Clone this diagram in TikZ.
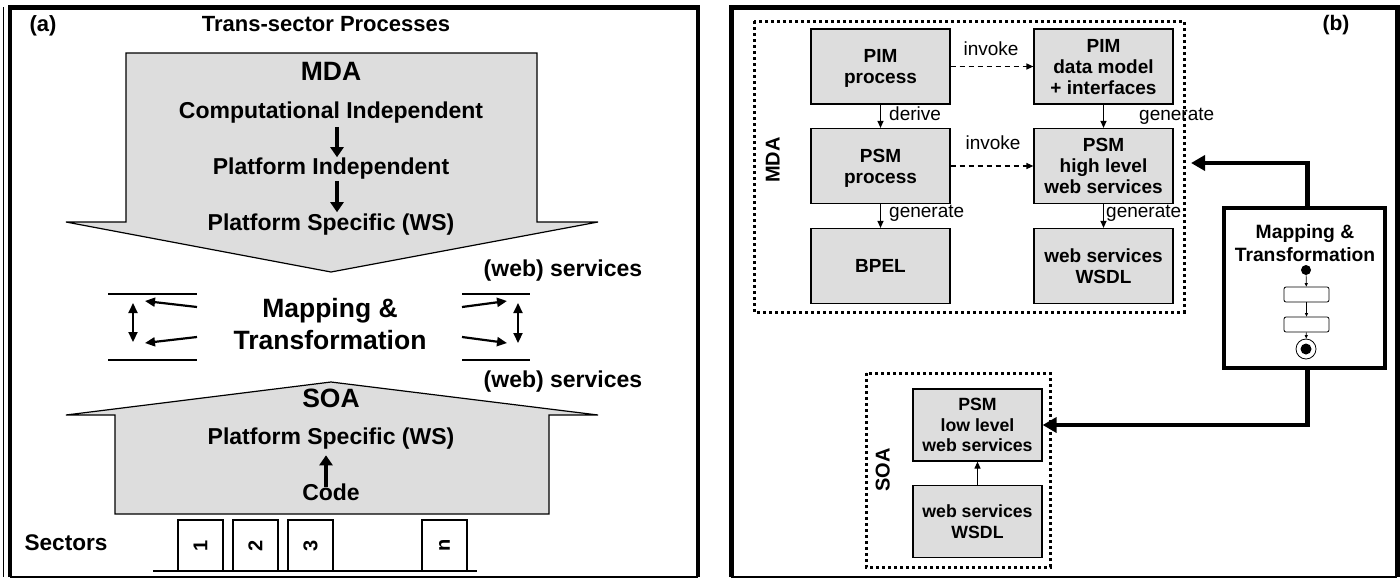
\documentclass[tikz,border=0pt]{standalone}
\usepackage{fontspec}
\usepackage{graphicx}
\setmainfont{Liberation Sans}
\usetikzlibrary{arrows.meta}
\definecolor{boxgray}{RGB}{221,221,221}
\tikzset{
  tx/.style={inner sep=0pt, text height=0.72em, text depth=0pt},
  bigtxt/.style={tx, font=\fontsize{26.5}{32}\selectfont\bfseries},
  medtxt/.style={tx, font=\fontsize{23}{26}\selectfont\bfseries},
  twoline/.style={inner sep=0pt, align=center, font=\fontsize{26.5}{32}\selectfont\bfseries},
  lbl/.style={tx, font=\fontsize{19}{21}\selectfont},
  boldlbl/.style={tx, font=\fontsize{20}{22}\selectfont\bfseries},
  gbox/.style={draw, fill=boxgray, line width=1.2pt, minimum width=139pt, minimum height=75pt,
    inner sep=0pt, align=center, text depth=0pt, font=\fontsize{19}{21}\selectfont\bfseries},
  sbox/.style={draw, fill=boxgray, line width=1.2pt, minimum width=129pt, minimum height=72pt,
    inner sep=0pt, align=center, text depth=0pt, font=\fontsize{17.7}{20.5}\selectfont\bfseries},
  secbox/.style={draw, line width=1.3pt, minimum width=45pt, minimum height=51pt, inner sep=0pt,
    font=\fontsize{20}{22}\selectfont\bfseries},
  dotframe/.style={line width=3pt, dash pattern=on 3pt off 3pt},
  fatarrow/.style={line width=4pt, -{Triangle[length=10pt,width=13pt]}},
  maparrow/.style={line width=2.2pt, -{Triangle[length=10pt,width=9pt]}},
  dblarrow/.style={line width=2.2pt, {Triangle[length=10pt,width=9pt]}-{Triangle[length=10pt,width=9pt]}},
  thinarrow/.style={line width=1.2pt, -{Triangle[length=7pt,width=6pt]}},
  dasharrow/.style={line width=1.2pt, dash pattern=on 5pt off 4pt, -{Triangle[length=7pt,width=6pt]}},
  heavyarrow/.style={line width=4.5pt, -{Triangle[length=14pt,width=15pt]}},
  tinyarrow/.style={line width=0.7pt, -{Triangle[length=3.5pt,width=3pt]}},
  shape line/.style={draw=black, line width=1.2pt, fill=boxgray}
}
\begin{document}
\begin{tikzpicture}[x=1pt,y=-1pt]
\useasboundingbox (0,0) rectangle (1400,579);
\fill[white] (0,0) rectangle (1400,579);

% ---------------- frames
\draw[line width=1pt] (3,7) -- (3,577);
\draw[line width=4.5pt, line join=miter] (10,577) -- (10,7.5) -- (698,7.5) -- (698,577);
\draw[line width=1.2pt] (10,577) -- (698,577);
\draw[line width=5pt, line join=miter] (731,577) -- (731,7.5) -- (1397,7.5) -- (1397,577);
\draw[line width=1.2pt] (731,577) -- (1397,577);

% ---------------- panel (a)
\node[tx, font=\fontsize{22}{24}\selectfont\bfseries] (la) at (43,28) {(a)};
\node[tx, font=\fontsize{22}{24}\selectfont\bfseries] (title) at (326,28) {Trans-sector Processes};

\path[shape line] (126,53) -- (537,53) -- (537,222) -- (598,222) -- (331,272) -- (66,222) -- (126,222) -- cycle;
\node[bigtxt] (mda) at (331,77) {MDA};
\node[medtxt] (cim) at (331,115) {Computational Independent};
\node[medtxt] (pim) at (331,171) {Platform Independent};
\node[medtxt] (psm) at (331,227) {Platform Specific (WS)};
\draw[fatarrow, shorten <=8pt, shorten >=10pt] ([xshift=6pt]cim.south) -- ([xshift=6pt]pim.north);
\draw[fatarrow, shorten <=6pt, shorten >=11pt] ([xshift=6pt]pim.south) -- ([xshift=6pt]psm.north);
\node[medtxt] (ws1) at (563,273) {(web) services};

% mapping
\node[twoline] (map) at (330,324) {Mapping \&\\Transformation};
\coordinate (l1a) at (108,294); \coordinate (l1b) at (197,294);
\coordinate (l2a) at (108,360); \coordinate (l2b) at (197,360);
\coordinate (r1a) at (462,294); \coordinate (r1b) at (530,294);
\coordinate (r2a) at (462,360); \coordinate (r2b) at (530,360);
\draw[line width=2pt] (l1a) -- (l1b); \draw[line width=2pt] (l2a) -- (l2b);
\draw[line width=2pt] (r1a) -- (r1b); \draw[line width=2pt] (r2a) -- (r2b);
\coordinate (lv1) at (133,303); \coordinate (lv2) at (133,342);
\coordinate (rv1) at (518,303); \coordinate (rv2) at (518,343);
\draw[dblarrow] (lv1) -- (lv2);
\draw[dblarrow] (rv1) -- (rv2);
\coordinate (la1) at (197,307); \coordinate (la2) at (145,301);
\coordinate (lb1) at (197,337); \coordinate (lb2) at (145,343);
\coordinate (ra1) at (462,307); \coordinate (ra2) at (507,301);
\coordinate (rb1) at (462,337); \coordinate (rb2) at (507,343);
\draw[maparrow] (la1) -- (la2);
\draw[maparrow] (lb1) -- (lb2);
\draw[maparrow] (ra1) -- (ra2);
\draw[maparrow] (rb1) -- (rb2);
\node[medtxt] (ws2) at (563,384) {(web) services};

% SOA house
\path[shape line] (115,514) -- (115,415) -- (66,415) -- (331,382) -- (598,415) -- (549,415) -- (549,514) -- cycle;
\node[bigtxt] (soa) at (331,404) {SOA};
\node[medtxt] (psm2) at (331,441) {Platform Specific (WS)};
\node[medtxt] (code) at (331,497) {Code};
\draw[fatarrow, shorten <=6.5pt, shorten >=10.5pt] ([xshift=-5pt]code.north) -- ([xshift=-5pt]psm2.south);

% sectors
\node[tx, font=\fontsize{22.6}{24}\selectfont\bfseries] (sectors) at (66,547) {Sectors};
\node[secbox] (s1) at (200.5,545.5) {\rotatebox{90}{1}};
\node[secbox] (s2) at (255.5,545.5) {\rotatebox{90}{2}};
\node[secbox] (s3) at (310.5,545.5) {\rotatebox{90}{3}};
\node[secbox] (sn) at (444.5,545.5) {\rotatebox{90}{n}};
\coordinate (bl1) at (153,571); \coordinate (bl2) at (477,571);
\draw[line width=1.5pt] (bl1) -- (bl2);

% ---------------- panel (b)
\node[tx, font=\fontsize{21}{23}\selectfont\bfseries] (lb) at (1336,27) {(b)};
\draw[dotframe] (754,21) rectangle (1184,312);
\node[boldlbl, rotate=90] (mdab) at (776,160) {MDA};

\node[gbox] (pimp) at (880.5,66.5) {PIM\\process};
\node[gbox] (pimd) at (1103.5,66.5) {PIM\\data model\\+ interfaces};
\node[gbox] (psmp) at (880.5,166) {PSM\\process};
\node[gbox] (psmh) at (1103.5,166) {PSM\\high level\\web services};
\node[gbox] (bpel) at (880.5,266) {BPEL};
\node[gbox] (wsdl) at (1103.5,266) {web services\\WSDL};

\draw[dasharrow] (pimp) -- (pimd);
\draw[dasharrow] (psmp) -- (psmh);
\draw[thinarrow] (pimp) -- (psmp);
\draw[thinarrow] (pimd) -- (psmh);
\draw[thinarrow] (psmp) -- (bpel);
\draw[thinarrow] (psmh) -- (wsdl);
\node[lbl] (inv1) at (991,52) {invoke};
\node[lbl] (inv2) at (993,146) {invoke};
\node[lbl, anchor=west] (der) at (889,117) {derive};
\node[lbl, anchor=west] (gen1) at (1139,117) {generate};
\node[lbl, anchor=west] (gen2) at (889,214) {generate};
\node[lbl, anchor=west] (gen3) at (1106,214) {generate};

% mapping & transformation box
\node[draw, line width=3.5pt, fill=white, minimum width=161pt, minimum height=160pt, inner sep=0pt] (mt) at (1304.5,288) {};
\node[inner sep=0pt, align=center, font=\fontsize{19.3}{23}\selectfont\bfseries] (mttxt) at (1305,243) {Mapping \&\\Transformation};
\node[circle, fill=black, minimum size=10pt, inner sep=0pt] (st) at (1306,270) {};
\node[draw, rounded corners=2pt, line width=0.8pt, minimum width=45pt, minimum height=15pt, inner sep=0pt] (ac1) at (1306.5,294.5) {};
\node[draw, rounded corners=2pt, line width=0.8pt, minimum width=45pt, minimum height=15pt, inner sep=0pt] (ac2) at (1306.5,324.5) {};
\node[circle, draw, line width=0.8pt, minimum size=20pt, inner sep=0pt] (en) at (1306,349) {};
\node[circle, fill=black, minimum size=11pt, inner sep=0pt] (eni) at (1306,349) {};
\draw[tinyarrow] (st) -- (ac1);
\draw[tinyarrow] (ac1) -- (ac2);
\draw[tinyarrow] (ac2) -- (en);

\coordinate (mdain) at (1191,163);
\draw[heavyarrow] ([xshift=3pt]mt.north) |- (mdain);

% SOA
\draw[dotframe] (866,373) rectangle (1050,567);
\node[boldlbl, rotate=90] (soab) at (886,470) {SOA};
\node[sbox] (psml) at (977.5,425) {PSM\\low level\\web services};
\node[sbox] (wsdl2) at (977.5,521.5) {web services\\WSDL};
\draw[thinarrow] (wsdl2) -- (psml);
\draw[heavyarrow] ([xshift=3pt]mt.south) |- (psml.east);
\end{tikzpicture}
\end{document}
